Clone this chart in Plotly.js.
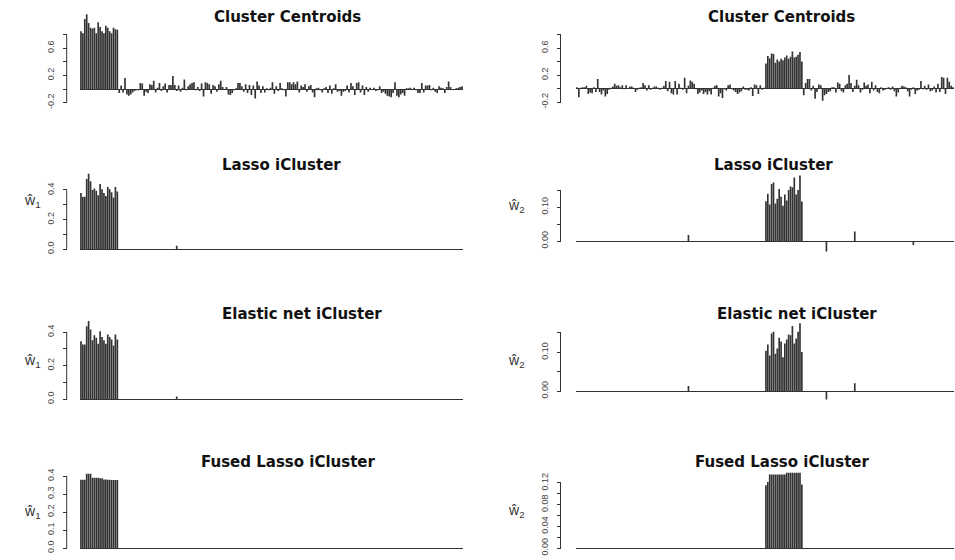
<!DOCTYPE html>
<html><head><meta charset="utf-8">
<script src="https://cdn.plot.ly/plotly-3.0.1.min.js"></script>
<style>html,body{margin:0;padding:0;background:#fff}#chart{width:955px;height:560px}</style>
</head><body><div id="chart"></div>
<script>
// ---------------- DATA ----------------
const NFEAT = 200;
const features = Array.from({length: NFEAT}, (_, i) => i + 1);

// Cluster centroids, left (features 1-20 informative)
const centroid1Signal = [0.85, 0.82, 1.03, 1.10, 0.97, 0.90, 0.89, 0.90, 0.82, 0.98, 0.91, 0.85, 0.82, 0.93, 0.90, 0.85, 0.82, 0.90, 0.88, 0.87];
const centroid1Noise = [
-0.06, 0.05, -0.05, 0.16, -0.08, -0.10, -0.08, -0.05, -0.03, -0.02,
-0.02, 0.09, 0.08, -0.10, -0.04, -0.06, 0.07, 0.06, 0.12, -0.05,
0.02, 0.09, -0.03, 0.04, 0.08, -0.05, 0.06, 0.06, 0.19, 0.06,
-0.03, 0.05, -0.04, 0.02, 0.14, -0.02, 0.04, 0.07, 0.09, 0.10,
-0.02, 0.03, -0.03, 0.08, -0.11, 0.10, 0.09, 0.07, -0.07, 0.06,
0.04, -0.04, 0.07, 0.12, 0.03, -0.01, 0.03, -0.08, -0.09, -0.06,
-0.02, 0.01, 0.09, 0.09, 0.04, -0.04, 0.07, -0.06, 0.06, -0.09,
0.05, -0.14, 0.11, 0.05, -0.06, 0.04, -0.05, 0.01, -0.02, 0.02,
0.10, -0.07, 0.04, -0.03, 0.09, 0.01, -0.02, -0.11, 0.10, 0.10,
0.07, 0.10, 0.07, 0.11, -0.05, 0.05, 0.03, 0.07, -0.04, 0.04,
0.06, -0.05, -0.12, 0.01, 0.02, -0.02, -0.05, 0.01, 0.03, -0.06,
0.05, -0.07, 0.01, 0.07, -0.04, -0.03, -0.10, -0.04, -0.03, 0.05,
-0.05, 0.09, 0.04, -0.09, 0.09, 0.10, -0.05, 0.05, -0.09, 0.03,
-0.04, 0.02, -0.01, 0.02, -0.03, -0.02, 0.04, -0.06, -0.04, -0.07,
-0.10, -0.11, -0.12, -0.06, 0.10, -0.10, -0.12, -0.08, -0.06, -0.10,
0.01, 0.01, 0.02, -0.01, 0.02, -0.02, -0.06, -0.06, 0.09, -0.05,
0.05, 0.05, 0.06, -0.02, 0.02, -0.04, -0.06, 0.04, 0.02, 0.01,
-0.06, 0.03, 0.11, 0.03, -0.01, -0.01, 0.01, 0.02, 0.03, 0.04
];

// Cluster centroids, right (features 101-120 informative)
const centroid2NoiseA = [
0.02, -0.13, 0.01, 0.02, 0.02, 0.04, -0.08, -0.06, -0.07, 0.02,
-0.05, 0.14, -0.05, -0.09, -0.03, -0.12, -0.08, -0.02, 0.01, 0.03,
0.07, 0.04, 0.05, 0.02, 0.05, -0.01, 0.05, 0.00, 0.03, 0.03,
0.01, -0.05, -0.02, 0.01, 0.02, 0.08, 0.05, -0.03, 0.05, -0.02,
0.01, 0.03, 0.03, 0.01, -0.02, 0.01, 0.04, 0.11, -0.04, 0.10,
-0.07, -0.09, 0.11, -0.09, 0.07, 0.01, -0.02, 0.16, -0.07, 0.04,
0.12, 0.10, 0.07, -0.01, -0.08, -0.06, -0.03, -0.08, -0.05, -0.09,
-0.04, -0.09, 0.01, 0.04, 0.05, -0.12, -0.07, -0.14, -0.01, -0.03,
0.05, 0.06, -0.01, -0.03, -0.05, -0.08, -0.06, -0.04, 0.03, -0.02,
-0.02, -0.03, 0.02, -0.11, 0.06, 0.05, -0.08, 0.05, -0.02, 0.01
];
const centroid2Signal = [0.37, 0.48, 0.45, 0.52, 0.51, 0.38, 0.43, 0.40, 0.44, 0.42, 0.46, 0.49, 0.44, 0.47, 0.55, 0.46, 0.47, 0.50, 0.54, 0.40];
const centroid2NoiseB = [
-0.10, 0.08, 0.14, 0.14, -0.03, 0.04, -0.15, -0.05, 0.06, 0.05,
-0.18, -0.10, -0.08, -0.05, -0.04, 0.02, 0.02, -0.06, 0.09, 0.07,
-0.04, -0.06, 0.05, 0.07, 0.20, 0.08, -0.05, 0.04, 0.13, 0.05,
-0.06, -0.02, 0.09, 0.04, 0.06, -0.07, 0.10, -0.03, 0.05, -0.05,
-0.07, 0.02, -0.03, -0.02, 0.01, 0.02, -0.02, 0.03, -0.04, -0.12,
-0.06, 0.01, 0.04, 0.03, 0.02, -0.04, -0.12, -0.02, 0.02, -0.08,
-0.03, -0.02, 0.11, -0.01, 0.04, -0.02, 0.06, -0.04, -0.03, 0.03,
-0.06, 0.07, -0.05, 0.17, 0.16, -0.08, 0.16, 0.10, 0.04, 0.02
];

// Lasso iCluster
const lasso1Signal = [0.38, 0.355, 0.355, 0.475, 0.51, 0.46, 0.40, 0.41, 0.395, 0.365, 0.44, 0.405, 0.38, 0.36, 0.42, 0.405, 0.385, 0.35, 0.42, 0.39];
const lasso1SparseFeat = [51, 99];
const lasso1SparseVal = [0.022, -0.005];
const lasso2Signal = [0.117, 0.139, 0.107, 0.168, 0.172, 0.110, 0.124, 0.153, 0.130, 0.104, 0.137, 0.119, 0.150, 0.160, 0.158, 0.187, 0.137, 0.150, 0.193, 0.116];
const lasso2SparseFeat = [60, 133, 148, 179];
const lasso2SparseVal = [0.018, -0.031, 0.028, -0.012];

// Elastic net iCluster
const elastic1Signal = [0.345, 0.325, 0.325, 0.435, 0.465, 0.415, 0.35, 0.38, 0.365, 0.33, 0.405, 0.37, 0.35, 0.33, 0.385, 0.37, 0.355, 0.32, 0.385, 0.355];
const elastic1SparseFeat = [51];
const elastic1SparseVal = [0.015];
const elastic2Signal = [0.104, 0.120, 0.092, 0.149, 0.153, 0.096, 0.110, 0.138, 0.128, 0.087, 0.123, 0.133, 0.146, 0.144, 0.168, 0.123, 0.136, 0.153, 0.175, 0.101];
const elastic2SparseFeat = [60, 133, 148];
const elastic2SparseVal = [0.013, -0.022, 0.020];

// Fused Lasso iCluster
const fused1Signal = [0.379, 0.379, 0.379, 0.412, 0.412, 0.412, 0.390, 0.390, 0.390, 0.390, 0.387, 0.387, 0.380, 0.380, 0.379, 0.379, 0.378, 0.378, 0.378, 0.378];
const fused2Signal = [0.116, 0.122, 0.1355, 0.1355, 0.1355, 0.1355, 0.1355, 0.1355, 0.1355, 0.1355, 0.1355, 0.1387, 0.1387, 0.1387, 0.1387, 0.1387, 0.1387, 0.1387, 0.1387, 0.117];

const panelTitles = ['Cluster Centroids', 'Cluster Centroids', 'Lasso iCluster', 'Lasso iCluster',
  'Elastic net iCluster', 'Elastic net iCluster', 'Fused Lasso iCluster', 'Fused Lasso iCluster'];

// tick marks (all) and labelled ticks per panel
const ticksCentroid = [-0.2, 0, 0.2, 0.4, 0.6, 0.8];
const labelsCentroid = ['-0.2', '0.2', '0.6'];
const ticksW1 = [0, 0.1, 0.2, 0.3, 0.4];
const labelsW1 = ['0.0', '0.2', '0.4'];
const ticksW2 = [0, 0.05, 0.1, 0.15];
const labelsW2 = ['0.00', '0.10'];
const ticksFused1 = [0, 0.1, 0.2, 0.3, 0.4];
const labelsFused1 = ['0.0', '0.1', '0.2', '0.3', '0.4'];
const ticksFused2 = [0, 0.02, 0.04, 0.06, 0.08, 0.10, 0.12];
const labelsFused2 = ['0.00', '0.04', '0.08', '0.12'];

// ---------------- BUILD ----------------
function sparseVector(start, signal, feats, vals) {
  const v = new Array(NFEAT).fill(0);
  signal.forEach((s, k) => { v[start - 1 + k] = s; });
  (feats || []).forEach((f, k) => { v[f - 1] = vals[k]; });
  return v;
}
const centroid1 = centroid1Signal.concat(centroid1Noise);
const centroid2 = centroid2NoiseA.concat(centroid2Signal, centroid2NoiseB);
const lasso1 = sparseVector(1, lasso1Signal, lasso1SparseFeat, lasso1SparseVal);
const lasso2 = sparseVector(101, lasso2Signal, lasso2SparseFeat, lasso2SparseVal);
const elastic1 = sparseVector(1, elastic1Signal, elastic1SparseFeat, elastic1SparseVal);
const elastic2 = sparseVector(101, elastic2Signal, elastic2SparseFeat, elastic2SparseVal);
const fused1 = sparseVector(1, fused1Signal, [], []);
const fused2 = sparseVector(101, fused2Signal, [], []);

const W = 955, H = 560;
const panels = [
 {d: centroid1, col: 0, base: 89, k: 68, lo: -0.22, hi: 1.12, ticks: ticksCentroid, lab: labelsCentroid, tx: 287, ty: 17},
 {d: centroid2, col: 1, base: 88.5, k: 67.5, lo: -0.22, hi: 1.12, ticks: ticksCentroid, lab: labelsCentroid, tx: 781.5, ty: 17},
 {d: lasso1, col: 0, base: 249, k: 147.5, lo: -0.02, hi: 0.53, ticks: ticksW1, lab: labelsW1, tx: 281.5, ty: 165, yl: 'ŵ<sub>1</sub>', ly: 201},
 {d: lasso2, col: 1, base: 241, k: 340, lo: -0.04, hi: 0.2, ticks: ticksW2, lab: labelsW2, tx: 773.5, ty: 165, yl: 'ŵ<sub>2</sub>', ly: 206},
 {d: elastic1, col: 0, base: 399, k: 167.5, lo: -0.02, hi: 0.48, ticks: ticksW1, lab: labelsW1, tx: 302, ty: 314, yl: 'ŵ<sub>1</sub>', ly: 361},
 {d: elastic2, col: 1, base: 391, k: 386.7, lo: -0.03, hi: 0.18, ticks: ticksW2, lab: labelsW2, tx: 796.5, ty: 314, yl: 'ŵ<sub>2</sub>', ly: 361},
 {d: fused1, col: 0, base: 548, k: 180, lo: -0.01, hi: 0.43, ticks: ticksFused1, lab: labelsFused1, tx: 288.5, ty: 462, yl: 'ŵ<sub>1</sub>', ly: 512},
 {d: fused2, col: 1, base: 548, k: 541.7, lo: -0.005, hi: 0.145, ticks: ticksFused2, lab: labelsFused2, tx: 782.5, ty: 462, yl: 'ŵ<sub>2</sub>', ly: 511}
];
const colX = [{x0: 80, x1: 463, axis: 66.7, ylab: 32}, {x0: 576, x1: 954, axis: 560.5, ylab: 516}];

const traces = [], shapes = [], annotations = [];
const layout = {
  width: W, height: H, margin: {l: 0, r: 0, t: 0, b: 0},
  paper_bgcolor: '#fff', plot_bgcolor: 'rgba(0,0,0,0)',
  showlegend: false, bargap: 0.12,
  font: {family: 'Liberation Sans, Arial, sans-serif', color: '#333'}
};
panels.forEach((p, i) => {
  const n = i + 1, xa = 'x' + (n === 1 ? '' : n), ya = 'y' + (n === 1 ? '' : n);
  const c = colX[p.col];
  traces.push({type: 'bar', x: features, y: p.d, xaxis: xa, yaxis: ya,
    marker: {color: '#333333', line: {width: 0}}, hoverinfo: 'skip'});
  const dom = [1 - (p.base - p.lo * p.k) / H, 1 - (p.base - p.hi * p.k) / H];
  const labVals = p.lab.map(Number);
  layout['xaxis' + (n === 1 ? '' : n)] = {domain: [c.x0 / W, c.x1 / W], range: [0.5, NFEAT + 0.5],
    anchor: ya, visible: false, fixedrange: true};
  layout['yaxis' + (n === 1 ? '' : n)] = {domain: dom, range: [p.lo, p.hi], anchor: 'free', position: c.axis / W,
    showgrid: false, showline: false, zeroline: true, zerolinecolor: '#333', zerolinewidth: 1,
    tickmode: 'array', tickvals: labVals, ticktext: p.lab, ticks: 'outside', ticklen: 4, tickwidth: 1,
    tickcolor: '#333', tickangle: -90, ticklabelstandoff: 5,
    minor: {tickmode: 'array', tickvals: p.ticks, ticks: 'outside', ticklen: 4, tickwidth: 1, tickcolor: '#333', showgrid: false},
    tickfont: {family: 'Liberation Sans, Arial, sans-serif', size: 9, color: '#444'}, fixedrange: true};
  shapes.push({type: 'line', xref: 'paper', yref: ya, x0: c.axis / W, x1: c.axis / W,
    y0: p.ticks[0], y1: p.ticks[p.ticks.length - 1], line: {color: '#333', width: 1}});
  annotations.push({text: panelTitles[i], xref: 'paper', yref: 'paper', x: p.tx / W, y: 1 - p.ty / H,
    xanchor: 'center', yanchor: 'middle', showarrow: false,
    font: {family: 'DejaVu Sans, sans-serif', size: 15, weight: 'bold', color: '#111'}});
  if (p.yl) {
    annotations.push({text: p.yl, xref: 'paper', yref: 'paper', x: c.ylab / W, y: 1 - p.ly / H,
      xanchor: 'center', yanchor: 'middle', showarrow: false,
      font: {family: 'Liberation Sans, Arial, sans-serif', size: 14, color: '#333'}});
  }
});
layout.shapes = shapes;
layout.annotations = annotations;
Plotly.newPlot('chart', traces, layout, {staticPlot: true, displayModeBar: false});
</script>
</body></html>
